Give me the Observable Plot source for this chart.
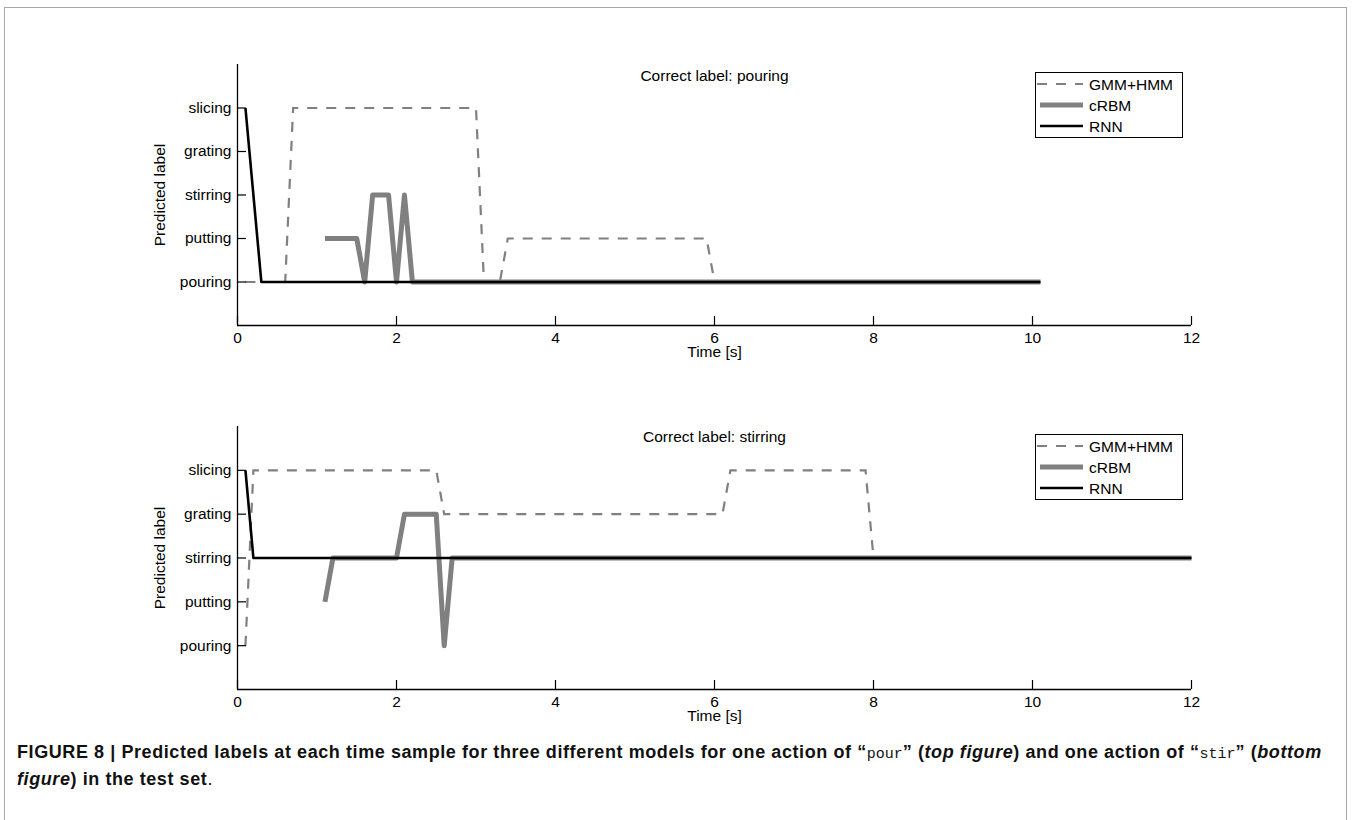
<!DOCTYPE html>
<html>
<head>
<meta charset="utf-8">
<script src="https://cdn.jsdelivr.net/npm/d3@7"></script>
<script src="https://cdn.jsdelivr.net/npm/@observablehq/plot@0.6"></script>
<style>
  body { margin: 0; background: #fff; font-family: "Liberation Sans", Arial, Helvetica, sans-serif; }
  #wrap { position: relative; width: 1352px; height: 820px; overflow: hidden; background: #fff; }
  #frame { position: absolute; left: 4px; top: 7px; width: 1343px; height: 840px; border: 1.5px solid #a8a8a8; box-sizing: border-box; }
  .plot { position: absolute; left: 0; }
  .legend { position: absolute; box-sizing: border-box; border: 1px solid #000; background: #fff; width: 148px; height: 66px; }
  .legend svg { display: block; }
  #caption { position: absolute; left: 17px; top: 740px; font-size: 18px; letter-spacing: 0.58px; line-height: 24px; white-space: nowrap; color: #111; }
  #caption b { font-weight: bold; }
  .mono { font-family: "Liberation Mono", "DejaVu Sans Mono", monospace; font-weight: normal; font-size: 15px; letter-spacing: 0; }
</style>
</head>
<body>
<div id="wrap">
  <div id="frame"></div>
  <div id="top" class="plot" style="top:0px"></div>
  <div id="bottom" class="plot" style="top:365px"></div>
  <div id="caption"><b>FIGURE 8 | Predicted labels at each time sample for three different models for one action of “<span class="mono">pour</span>” (<i>top figure</i>) and one action of “<span class="mono">stir</span>” (<i>bottom</i><br><i>figure</i>) in the test set</b>.</div>
</div>
<script>
// ---- categories & ticks ----
const labels = ["pouring", "putting", "stirring", "grating", "slicing"];
const xTicks = [0, 2, 4, 6, 8, 10, 12];
const yTicks = [1, 2, 3, 4, 5];
const seriesNames = ["GMM+HMM", "cRBM", "RNN"];

// ---- top figure: correct label "pouring" ----
const topGmmT = [0.1, 0.6, 0.7, 3.0, 3.1, 3.3, 3.4, 5.9, 6.0, 10.1];
const topGmmL = ["pouring", "pouring", "slicing", "slicing", "pouring", "pouring", "putting", "putting", "pouring", "pouring"];
const topCrbmT = [1.1, 1.5, 1.6, 1.7, 1.9, 2.0, 2.1, 2.2, 10.1];
const topCrbmL = ["putting", "putting", "pouring", "stirring", "stirring", "pouring", "stirring", "pouring", "pouring"];
const topRnnT = [0.1, 0.3, 10.1];
const topRnnL = ["slicing", "pouring", "pouring"];

// ---- bottom figure: correct label "stirring" ----
const botGmmT = [0.1, 0.2, 2.5, 2.6, 6.1, 6.2, 7.9, 8.0, 12.0];
const botGmmL = ["pouring", "slicing", "slicing", "grating", "grating", "slicing", "slicing", "stirring", "stirring"];
const botCrbmT = [1.1, 1.2, 2.0, 2.1, 2.5, 2.6, 2.7, 12.0];
const botCrbmL = ["putting", "stirring", "stirring", "grating", "grating", "pouring", "stirring", "stirring"];
const botRnnT = [0.1, 0.2, 12.0];
const botRnnL = ["slicing", "stirring", "stirring"];

const toRows = (T, L) => T.map((t, i) => ({t, y: labels.indexOf(L[i]) + 1}));

const FONT = "Liberation Sans, Arial, Helvetica, sans-serif";
const GRAY = "#808080";

function chart({title, gmm, crbm, rnn, marginTop, marginBottom, titleDy}) {
  const W = 1352, H = 365, mL = 237, mR = 161;
  const innerH = H - marginTop - marginBottom;
  const innerW = W - mL - mR;
  return Plot.plot({
    width: W, height: H,
    marginLeft: mL, marginRight: mR, marginTop, marginBottom,
    x: {domain: [0, 12]},
    y: {domain: [0, 6]},
    style: {fontFamily: FONT, fontSize: "15.5px", color: "#000", background: "transparent", overflow: "visible"},
    marks: [
      Plot.line(toRows(...gmm), {x: "t", y: "y", stroke: GRAY, strokeWidth: 2.2, strokeDasharray: "10,9", strokeLinecap: "butt", strokeLinejoin: "miter", strokeMiterlimit: 4}),
      Plot.line(toRows(...crbm), {x: "t", y: "y", stroke: GRAY, strokeWidth: 5, strokeLinecap: "butt", strokeLinejoin: "round"}),
      Plot.line(toRows(...rnn), {x: "t", y: "y", stroke: "#000", strokeWidth: 2.6, strokeLinecap: "butt", strokeLinejoin: "round"}),
      Plot.ruleX([0], {stroke: "#000", strokeWidth: 1.3}),
      Plot.ruleY([0], {stroke: "#000", strokeWidth: 1.3}),
      Plot.tickX(xTicks, {x: d => d, insetTop: innerH - 9, stroke: "#000", strokeWidth: 1.2}),
      Plot.tickY(yTicks, {y: d => d, insetRight: innerW - 9, stroke: "#000", strokeWidth: 1.2}),
      Plot.axisX(xTicks, {tickSize: 0, tickPadding: 6, label: null, fontSize: 15.5}),
      Plot.axisY(yTicks, {tickSize: 0, tickPadding: 6, tickFormat: d => labels[d - 1], label: null, fontSize: 15.5}),
      Plot.text([title], {frameAnchor: "top", lineAnchor: "middle", textAnchor: "middle", dy: titleDy, fontSize: 15.5}),
      Plot.text(["Time [s]"], {frameAnchor: "bottom", lineAnchor: "middle", textAnchor: "middle", dy: 27, fontSize: 15.5}),
      Plot.text(["Predicted label"], {frameAnchor: "left", lineAnchor: "middle", textAnchor: "middle", rotate: -90, dx: -77, fontSize: 15.5})
    ]
  });
}

function legend(top) {
  const div = document.createElement("div");
  div.className = "legend";
  div.style.left = "1035px";
  div.style.top = top + "px";
  const styles = [
    {stroke: GRAY, width: 2.2, dash: "10,9"},
    {stroke: GRAY, width: 5, dash: null},
    {stroke: "#000", width: 2.6, dash: null}
  ];
  const rows = [11, 32, 53];
  let s = `<svg width="146" height="64" xmlns="http://www.w3.org/2000/svg">`;
  seriesNames.forEach((n, i) => {
    const st = styles[i];
    s += `<line x1="${i === 0 ? 1 : 4}" x2="47" y1="${rows[i]}" y2="${rows[i]}" stroke="${st.stroke}" stroke-width="${st.width}"${st.dash ? ` stroke-dasharray="${st.dash}"` : ""}/>`;
    s += `<text x="53" y="${rows[i]}" dominant-baseline="central" font-family="${FONT}" font-size="15.5" fill="#000">${n}</text>`;
  });
  s += `</svg>`;
  div.innerHTML = s;
  return div;
}

const topDiv = document.getElementById("top");
topDiv.appendChild(chart({
  title: "Correct label: pouring",
  gmm: [topGmmT, topGmmL], crbm: [topCrbmT, topCrbmL], rnn: [topRnnT, topRnnL],
  marginTop: 64, marginBottom: 40, titleDy: 12
}));
const botDiv = document.getElementById("bottom");
botDiv.appendChild(chart({
  title: "Correct label: stirring",
  gmm: [botGmmT, botGmmL], crbm: [botCrbmT, botCrbmL], rnn: [botRnnT, botRnnL],
  marginTop: 61, marginBottom: 41, titleDy: 11
}));
const wrap = document.getElementById("wrap");
wrap.appendChild(legend(72));
wrap.appendChild(legend(434));
</script>
</body>
</html>
